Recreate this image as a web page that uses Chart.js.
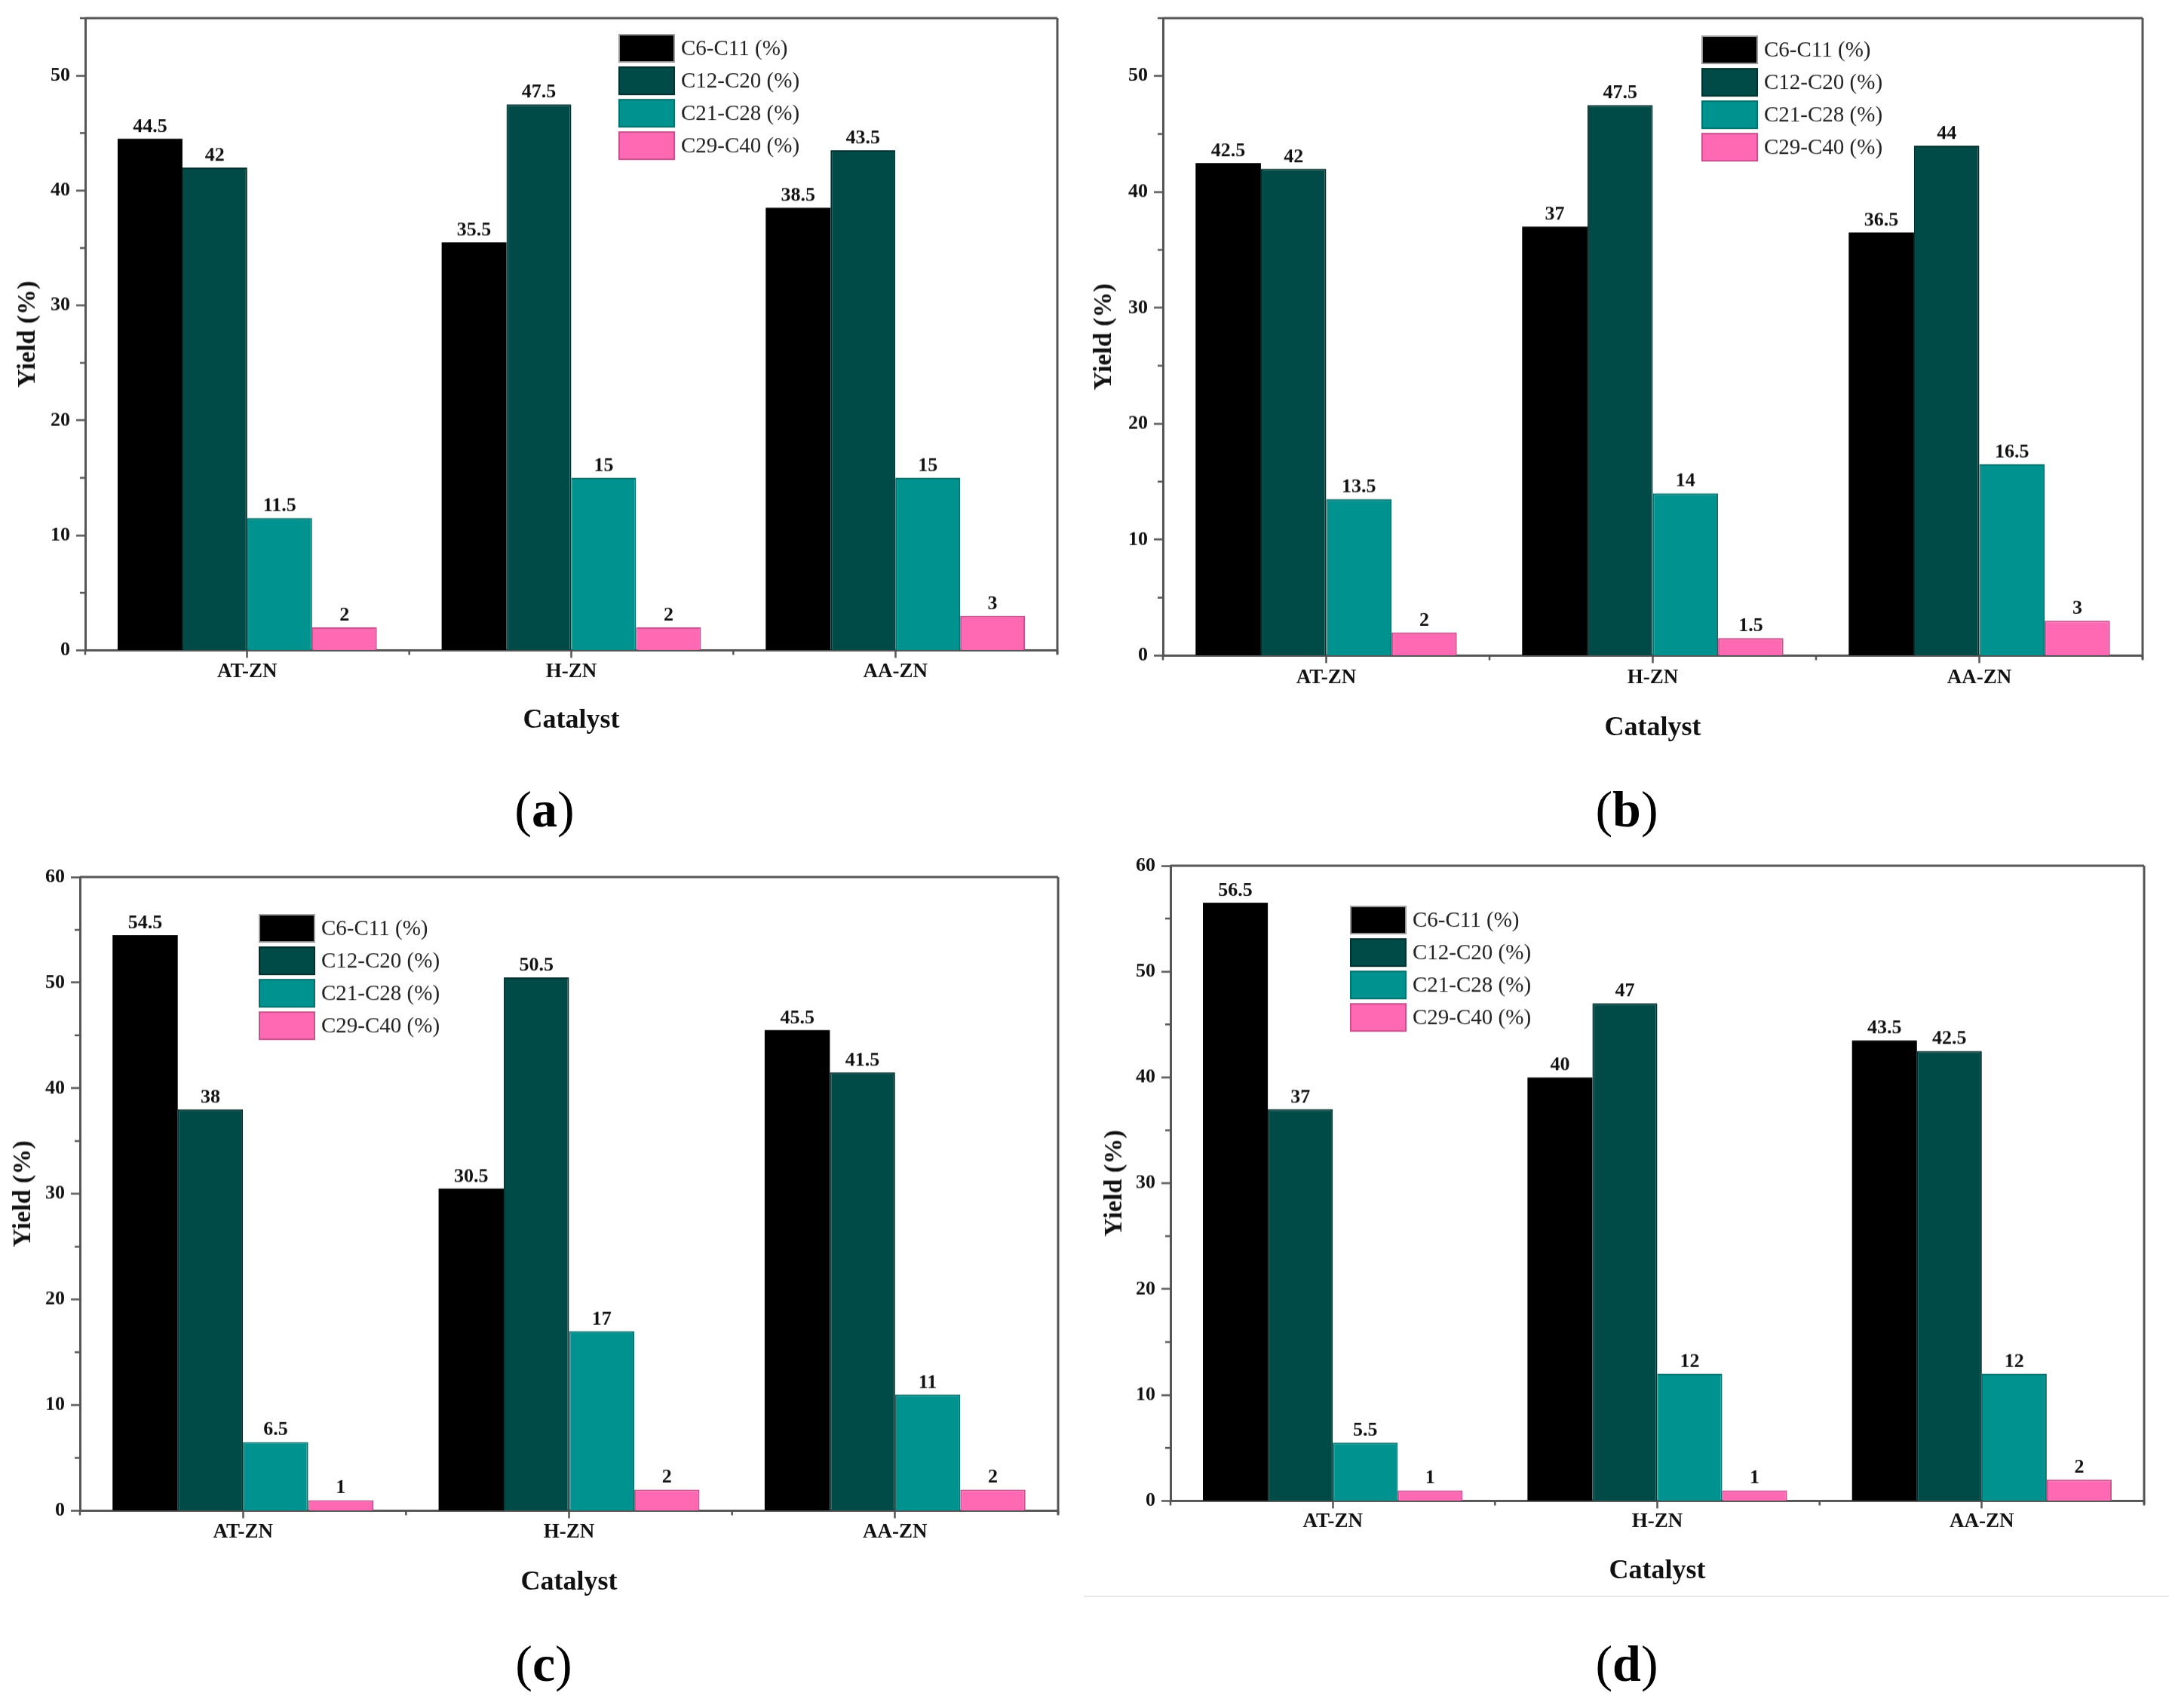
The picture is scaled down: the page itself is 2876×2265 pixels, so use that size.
<!DOCTYPE html>
<html><head><meta charset="utf-8">
<script src="https://cdn.jsdelivr.net/npm/chart.js@4.4.1/dist/chart.umd.min.js"></script>
<style>
html,body{margin:0;padding:0;background:#fff;}
#page{position:relative;width:2876px;height:2265px;overflow:hidden;background:#fff;}
#page canvas{position:absolute;}
.plabel{position:absolute;transform:translate(-50%,-50%);font-family:"Liberation Serif",serif;font-size:68px;line-height:1;color:#000;white-space:nowrap;}
.plabel b{font-weight:bold;}
#hline{position:absolute;left:1437px;top:2116px;width:1439px;height:2px;background:#e8e8e8;}
</style></head><body><div id="page"><div id="hline"></div></div>
<script>
// ---------- DATA ----------
const categories = ['AT-ZN', 'H-ZN', 'AA-ZN'];
const seriesNames = ['C6-C11 (%)', 'C12-C20 (%)', 'C21-C28 (%)', 'C29-C40 (%)'];

const a_C6_C11  = [44.5, 35.5, 38.5];
const a_C12_C20 = [42, 47.5, 43.5];
const a_C21_C28 = [11.5, 15, 15];
const a_C29_C40 = [2, 2, 3];

const b_C6_C11  = [42.5, 37, 36.5];
const b_C12_C20 = [42, 47.5, 44];
const b_C21_C28 = [13.5, 14, 16.5];
const b_C29_C40 = [2, 1.5, 3];

const c_C6_C11  = [54.5, 30.5, 45.5];
const c_C12_C20 = [38, 50.5, 41.5];
const c_C21_C28 = [6.5, 17, 11];
const c_C29_C40 = [1, 2, 2];

const d_C6_C11  = [56.5, 40, 43.5];
const d_C12_C20 = [37, 47, 42.5];
const d_C21_C28 = [5.5, 12, 12];
const d_C29_C40 = [1, 1, 2];

const yMaxTop = [55, 55, 60, 60];   // axis upper limits of panels a, b, c, d
const yStep = 10;
const xTitle = 'Catalyst';
const yTitle = 'Yield (%)';
const panelLetters = ['a', 'b', 'c', 'd'];

// ---------- STYLE ----------
const FONT = '"Liberation Serif", "Times New Roman", serif';
const fillColors = ['#000000', '#004a47', '#00928e', '#ff69b4'];
const edgeColors = ['#000000', '#00302e', '#00716d', '#c8508c'];
const axisColor = '#555555';

// layout of each panel (page pixels)
const layouts = [
  {L:113,  T:24,   R:1402, B:862,  yTitleX:37,   catLabY:891,  catY:955,  legX:820,  legY:64,   labX:722,  labY:1073},
  {L:1542, T:24,   R:2841, B:869,  yTitleX:1464, catLabY:899,  catY:965,  legX:2256, legY:66,   labX:2157, labY:1073},
  {L:106,  T:1163, R:1403, B:2003, yTitleX:31,   catLabY:2032, catY:2098, legX:343,  legY:1231, labX:721,  labY:2206},
  {L:1552, T:1148, R:2843, B:1990, yTitleX:1478, catLabY:2018, catY:2083, legX:1790, legY:1220, labX:2157, labY:2206}
];

const panelSeries = [
  [a_C6_C11, a_C12_C20, a_C21_C28, a_C29_C40],
  [b_C6_C11, b_C12_C20, b_C21_C28, b_C29_C40],
  [c_C6_C11, c_C12_C20, c_C21_C28, c_C29_C40],
  [d_C6_C11, d_C12_C20, d_C21_C28, d_C29_C40]
];

// ---------- PLUGINS ----------
const valueLabels = {
  id: 'valueLabels',
  afterDatasetsDraw(chart) {
    const ctx = chart.ctx;
    ctx.save();
    ctx.font = 'bold 26px ' + FONT;
    ctx.fillStyle = '#111';
    ctx.textAlign = 'center';
    ctx.textBaseline = 'alphabetic';
    chart.data.datasets.forEach((ds, i) => {
      const meta = chart.getDatasetMeta(i);
      meta.data.forEach((bar, j) => {
        ctx.fillText(String(ds.data[j]), bar.x, bar.y - 9);
      });
    });
    ctx.restore();
  }
};

const frameAndMinor = {
  id: 'frameAndMinor',
  afterDraw(chart) {
    const ctx = chart.ctx;
    const a = chart.chartArea;
    const ys = chart.scales.y;
    ctx.save();
    ctx.strokeStyle = axisColor;
    ctx.lineWidth = 3;
    ctx.beginPath();
    ctx.moveTo(a.left, a.top); ctx.lineTo(a.right, a.top);
    ctx.moveTo(a.right, a.top); ctx.lineTo(a.right, a.bottom + 5);
    ctx.stroke();
    // minor y ticks at half steps
    ctx.lineWidth = 2.5;
    ctx.beginPath();
    for (let v = yStep / 2; v <= ys.max + 0.001; v += yStep) {
      const py = ys.getPixelForValue(v);
      ctx.moveTo(a.left - 7, py); ctx.lineTo(a.left, py);
    }
    // minor x ticks at category boundaries
    const n = chart.data.labels.length;
    for (let i = 0; i <= n; i++) {
      const px = a.left + (a.right - a.left) * i / n;
      ctx.moveTo(px, a.bottom); ctx.lineTo(px, a.bottom + 6);
    }
    ctx.stroke();
    ctx.restore();
  }
};

const boxLegend = {
  id: 'boxLegend',
  afterDraw(chart, args, opts) {
    const ctx = chart.ctx;
    ctx.save();
    ctx.font = '29px ' + FONT;
    ctx.textAlign = 'left';
    ctx.textBaseline = 'middle';
    chart.data.datasets.forEach((ds, i) => {
      const cy = opts.y + i * 43;
      ctx.fillStyle = ds.backgroundColor;
      ctx.fillRect(opts.x, cy - 19, 75, 38);
      ctx.strokeStyle = i === 0 ? '#9a9a9a' : ds.borderColor;
      ctx.lineWidth = 2;
      ctx.strokeRect(opts.x + 1, cy - 18, 73, 36);
      ctx.fillStyle = '#222';
      ctx.fillText(ds.label, opts.x + 83, cy + 1);
    });
    ctx.restore();
  }
};

// ---------- BUILD ----------
const page = document.getElementById('page');
const WY = 100, PADT = 30, PADR = 20;
const Y_TITLE_SIZE = 34, X_TITLE_SIZE = 36, CAT_SIZE = 27;

layouts.forEach((g, p) => {
  const x0 = g.L - WY;
  const y0 = g.T - PADT;
  const yLH = Y_TITLE_SIZE * 1.2, xLH = X_TITLE_SIZE * 1.2, tickLH = CAT_SIZE * 1.2;
  const Hx = g.catY + xLH / 2 + 5 - g.B;
  const W = g.R + PADR - x0;
  const H = g.B + Hx - y0;

  const cv = document.createElement('canvas');
  cv.width = W; cv.height = H;
  cv.style.left = x0 + 'px'; cv.style.top = y0 + 'px';
  cv.style.width = W + 'px'; cv.style.height = H + 'px';
  page.appendChild(cv);

  const lab = document.createElement('div');
  lab.className = 'plabel';
  lab.style.left = g.labX + 'px'; lab.style.top = g.labY + 'px';
  lab.innerHTML = '(<b>' + panelLetters[p] + '</b>)';
  page.appendChild(lab);

  new Chart(cv, {
    type: 'bar',
    data: {
      labels: categories,
      datasets: panelSeries[p].map((vals, i) => ({
        label: seriesNames[i],
        data: vals,
        backgroundColor: fillColors[i],
        borderColor: edgeColors[i],
        borderWidth: i === 0 ? 0 : 2,
        categoryPercentage: 0.8,
        barPercentage: 1.0
      }))
    },
    options: {
      responsive: false,
      animation: false,
      devicePixelRatio: 1,
      layout: {padding: {top: PADT, right: PADR, left: 0, bottom: 0}},
      plugins: {
        legend: {display: false},
        tooltip: {enabled: false},
        boxLegend: {x: g.legX - x0, y: g.legY - y0}
      },
      scales: {
        x: {
          z: 1,
          offset: true,
          grid: {offset: false, drawOnChartArea: false, drawTicks: true, tickLength: 10, tickColor: axisColor, tickWidth: 2.5},
          border: {display: true, color: axisColor, width: 3},
          ticks: {color: '#111', font: {family: FONT, size: CAT_SIZE, weight: 'bold', lineHeight: 1.2},
                  padding: g.catLabY - g.B - tickLH / 2 - 10, maxRotation: 0},
          title: {display: true, text: xTitle, color: '#111',
                  font: {family: FONT, size: X_TITLE_SIZE, weight: 'bold', lineHeight: 1.2},
                  padding: {top: 0, bottom: 5}},
          afterFit(s) { s.height = Hx; }
        },
        y: {
          z: 1,
          min: 0, max: yMaxTop[p],
          grid: {drawOnChartArea: false, drawTicks: true, tickLength: 12, tickColor: axisColor, tickWidth: 2.5},
          border: {display: true, color: axisColor, width: 3},
          ticks: {stepSize: yStep, includeBounds: false, color: '#111', padding: 8,
                  font: {family: FONT, size: 26, weight: 'bold'}},
          title: {display: true, text: yTitle, color: '#111',
                  font: {family: FONT, size: Y_TITLE_SIZE, weight: 'bold', lineHeight: 1.2},
                  padding: {top: g.yTitleX - x0 - yLH / 2, bottom: 0}},
          afterFit(s) { s.width = WY; }
        }
      }
    },
    plugins: [valueLabels, frameAndMinor, boxLegend]
  });
});
</script>
</body></html>
